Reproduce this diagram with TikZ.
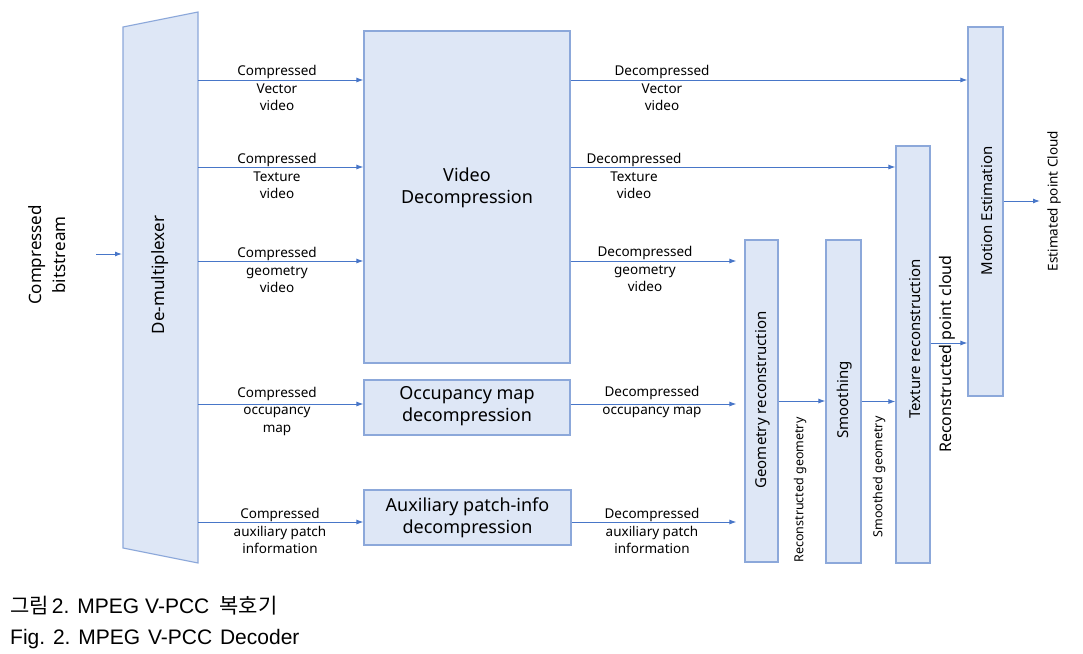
\documentclass[tikz,border=0pt]{standalone}
\usepackage{fontspec}
\setmainfont{Noto Sans}
\newfontfamily\capFont{Liberation Sans}
\newfontfamily\krFont{Noto Sans CJK KR}
\usetikzlibrary{arrows.meta}
\definecolor{blockFill}{RGB}{222,231,246}
\definecolor{blockLine}{RGB}{140,168,218}
\definecolor{flowColor}{RGB}{72,118,200}
\tikzstyle{pixelGrid} = [x = 1pt, y = -1pt]
\tikzstyle{blockStyle} = [draw=blockLine, fill=blockFill, line width=1.1pt, inner sep=0pt]
\tikzstyle{flowArrow} = [color=flowColor, line width=1pt, -{Latex[length=7pt, width=5pt]}]
\tikzstyle{flowText} = [align=center, inner sep=0pt, font=\fontsize{13.5}{17.5}\selectfont]
\tikzstyle{blockText} = [align=center, inner sep=0pt, font=\fontsize{18}{22.5}\selectfont]
\tikzstyle{sideText} = [inner sep=0pt, rotate=90, font=\fontsize{15}{18}\selectfont]
\tikzstyle{smallSideText} = [inner sep=0pt, rotate=90, font=\fontsize{12.5}{15}\selectfont]
\tikzstyle{captionText} = [anchor=base west, inner sep=0pt, font=\capFont\fontsize{21}{25}\selectfont]
\newcommand{\block}[6]{\node [blockStyle, minimum width=#4pt, minimum height=#5pt] (#1) at (#2,#3) {#6};}
\newcommand{\flowLabel}[4]{\node [flowText] (#1) at (#2,#3) {#4};}
\newcommand{\wideGap}{\ \hspace{2pt}}

\begin{document}
\begin{tikzpicture}[pixelGrid]
  \useasboundingbox (0,0) rectangle (1083,653);

  % de-multiplexer
  \filldraw [blockStyle] (123,27) -- (198,12) -- (198,563) -- (123,548) -- cycle;
  \coordinate (dmxIn) at (122,254);
  \coordinate (bitIn) at (96,254);
  \node [sideText, align=center, font=\fontsize{17}{24}\selectfont] (bitText) at (47,255) {Compressed\\bitstream};
  \node [sideText, font=\fontsize{17}{20}\selectfont] (dmxText) at (160,275) {De-multiplexer};
  \draw [flowArrow] (bitIn) -- (dmxIn);

  % decoders
  \block{videoBox}{467}{197}{206}{332}{}
  \node [blockText] (videoText) at (467,188) {Video\\Decompression};
  \block{occBox}{467}{407.5}{206}{55}{}
  \node [blockText] (occText) at (467,406) {Occupancy map\\decompression};
  \block{auxBox}{467.5}{517.5}{207}{55}{}
  \node [blockText] (auxText) at (467.5,518) {Auxiliary patch-info\\decompression};

  % reconstruction
  \block{geoBox}{761.5}{401}{33}{322}{}
  \block{smoothBox}{843.5}{401.5}{35}{323}{}
  \block{texBox}{913}{354.5}{34}{417}{}
  \block{motionBox}{985.5}{211.5}{35}{369}{}
  \node [sideText] (geoText) at (763,400) {Geometry reconstruction};
  \node [sideText] (smoothText) at (845,400) {Smoothing};
  \node [sideText] (texText) at (915,339) {Texture reconstruction};
  \node [sideText] (motionText) at (987,211) {Motion Estimation};

  % demux outputs
  \coordinate (outVector) at (198,80);
  \coordinate (outTexture) at (198,167);
  \coordinate (outGeometry) at (198,261);
  \coordinate (outOccupancy) at (198,404);
  \coordinate (outAux) at (198,522);
  \draw [flowArrow] (outVector) -- (outVector -| videoBox.west);
  \draw [flowArrow] (outTexture) -- (outTexture -| videoBox.west);
  \draw [flowArrow] (outGeometry) -- (outGeometry -| videoBox.west);
  \draw [flowArrow] (outOccupancy) -- (outOccupancy -| occBox.west);
  \draw [flowArrow] (outAux) -- (outAux -| auxBox.west);
  \flowLabel{cmpVector}{277}{88}{Compressed\\Vector\\video}
  \flowLabel{cmpTexture}{277}{176}{Compressed\\Texture\\video}
  \flowLabel{cmpGeometry}{277}{270}{Compressed\\geometry\\video}
  \flowLabel{cmpOccupancy}{277}{411}{Compressed\\occupancy\\map}
  \flowLabel{cmpAux}{280}{531}{Compressed\\auxiliary patch\\information}

  % decoder outputs
  \draw [flowArrow] (outVector -| videoBox.east) -- (outVector -| motionBox.west);
  \draw [flowArrow] (outTexture -| videoBox.east) -- (outTexture -| texBox.west);
  \draw [flowArrow, shorten >=8pt] (outGeometry -| videoBox.east) -- (outGeometry -| geoBox.west);
  \draw [flowArrow, shorten >=8pt] (outOccupancy -| occBox.east) -- (outOccupancy -| geoBox.west);
  \draw [flowArrow, shorten >=8pt] (outAux -| auxBox.east) -- (outAux -| geoBox.west);
  \flowLabel{decVector}{662}{88}{Decompressed\\Vector\\video}
  \flowLabel{decTexture}{634}{176}{Decompressed\\Texture\\video}
  \flowLabel{decGeometry}{645}{269}{Decompressed\\geometry\\video}
  \flowLabel{decOccupancy}{652}{402}{Decompressed\\occupancy map}
  \flowLabel{decAux}{652}{531}{Decompressed\\auxiliary patch\\information}

  % reconstruction chain
  \draw [flowArrow] (geoBox.east) -- (geoBox.east -| smoothBox.west);
  \draw [flowArrow] (smoothBox.east) -- (smoothBox.east -| texBox.west);
  \draw [flowArrow] ([yshift=11.5pt]texBox.east) -- ([yshift=11.5pt]texBox.east -| motionBox.west);
  \coordinate (estOut) at (1040,201);
  \draw [flowArrow] (estOut -| motionBox.east) -- (estOut);
  \node [smallSideText] (recGeoText) at (800,490) {Reconstructed geometry};
  \node [smallSideText] (smoothGeoText) at (879,477) {Smoothed geometry};
  \node [sideText, font=\fontsize{16}{19}\selectfont] (recCloudText) at (947,354) {Reconstructed point cloud};
  \node [smallSideText, font=\fontsize{13.5}{16}\selectfont] (estText) at (1054,201) {Estimated point Cloud};

  % caption
  \node [captionText] (capKr) at (10,613) {{\krFont 그림}\hspace{3pt}2.\hspace{8pt}MPEG\hspace{6pt}V-PCC\hspace{10pt}{\krFont 복호기}};
  \node [captionText] (capEn) at (10,644) {Fig.\wideGap 2.\wideGap MPEG\wideGap V-PCC\wideGap Decoder};
\end{tikzpicture}
\end{document}
